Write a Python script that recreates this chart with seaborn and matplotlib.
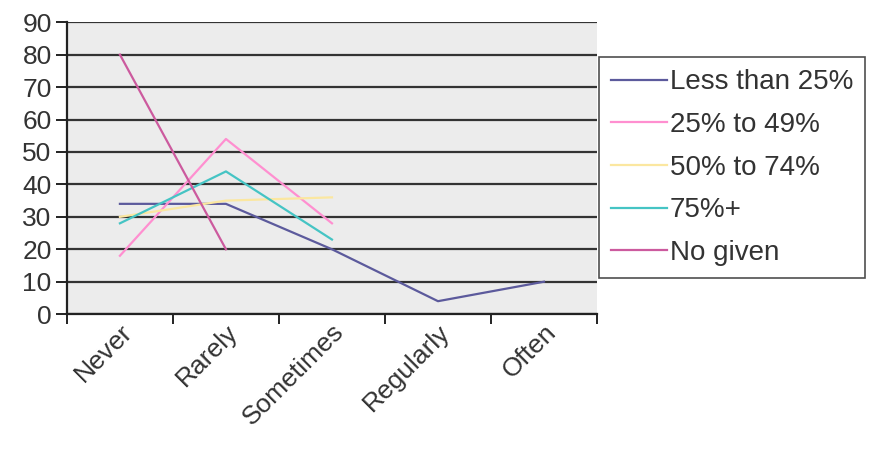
import seaborn as sns
import pandas as pd
import matplotlib.pyplot as plt
from matplotlib.ticker import FixedLocator

categories = ['Never', 'Rarely', 'Sometimes', 'Regularly', 'Often']
less_25 = [34, 34, 20, 4, 10]
p25_49 = [18, 54, 28, None, None]
p50_74 = [30, 35, 36, None, None]
p75_plus = [28, 44, 23, None, None]
no_given = [80, 20, None, None, None]

series = {
    'Less than 25%': less_25,
    '25% to 49%': p25_49,
    '50% to 74%': p50_74,
    '75%+': p75_plus,
    'No given': no_given,
}
colors = {
    'Less than 25%': '#5c5a9c',
    '25% to 49%': '#ff8fd0',
    '50% to 74%': '#fbe7a0',
    '75%+': '#45c4c4',
    'No given': '#cc5a9e',
}

rows = []
for name, vals in series.items():
    for cat, v in zip(categories, vals):
        if v is not None:
            rows.append({'cat': cat, 'value': v, 'series': name})
df = pd.DataFrame(rows)

plt.rcParams['font.family'] = ['Liberation Sans', 'DejaVu Sans']
fig = plt.figure(figsize=(8.69, 4.62), dpi=100)
ax = fig.add_axes([0.077, 0.320, 0.610, 0.632])
ax.set_facecolor('#ececec')

ax.set_yticks(range(0, 91, 10))
ax.grid(axis='y', color='#333333', linewidth=1.6, zorder=0)
ax.set_axisbelow(True)

sns.lineplot(data=df, x='cat', y='value', hue='series', hue_order=list(series),
             palette=colors, linewidth=1.6, ax=ax, sort=False)

ax.set_xlim(-0.5, 4.5)
ax.set_ylim(0, 90)
fsize = 19
ax.set_xticks(range(5))
ax.set_xticklabels(categories, rotation=45, ha='right', rotation_mode='anchor',
                   fontsize=fsize, color='#333333')
ax.tick_params(axis='x', which='major', length=0, pad=4)
ax.xaxis.set_minor_locator(FixedLocator([-0.5, 0.5, 1.5, 2.5, 3.5, 4.5]))
ax.tick_params(axis='x', which='minor', length=7, width=1.4, color='#222222')
ax.tick_params(axis='y', length=8, width=1.4, color='#222222', labelsize=fsize,
               labelcolor='#333333', pad=3)
ax.set_xlabel('')
ax.set_ylabel('')
for side in ['top', 'right']:
    ax.spines[side].set_visible(False)
for side in ['left', 'bottom']:
    ax.spines[side].set_linewidth(1.6)
    ax.spines[side].set_color('#222222')

leg = ax.legend(loc='upper left', bbox_to_anchor=(0.689, 0.877), bbox_transform=fig.transFigure,
                fontsize=20, frameon=True, fancybox=False, edgecolor='#222222',
                handlelength=2.0, handletextpad=0.1, labelspacing=0.6, borderpad=0.45,
                borderaxespad=0, labelcolor='#333333')
leg.get_frame().set_linewidth(1.2)

plt.savefig('out.png', dpi=100)
